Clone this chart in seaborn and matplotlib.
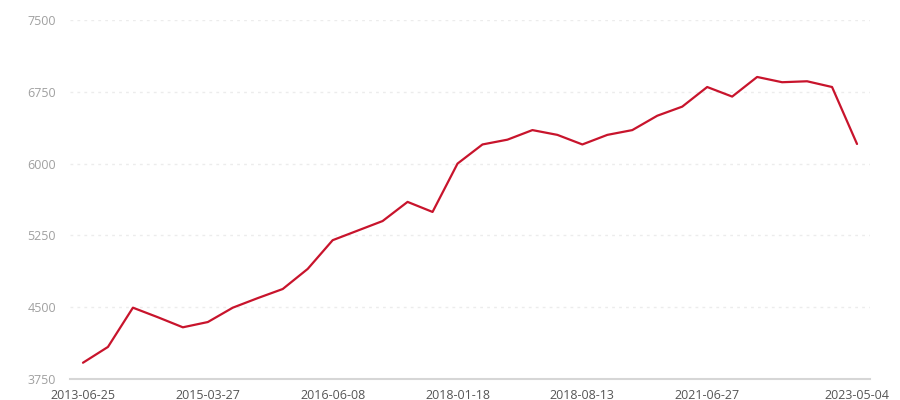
import pandas as pd
import matplotlib.pyplot as plt
import seaborn as sns

# dates shown on the x axis (every 5th point plus the last)
tick_dates = ['2013-06-25', '2015-03-27', '2016-06-08', '2018-01-18',
              '2018-08-13', '2021-06-27', '2023-05-04']
tick_index = [0, 5, 10, 15, 20, 25, 31]

values = [3920, 4085, 4495, 4395, 4290, 4345, 4495, 4595, 4690, 4900,
          5200, 5300, 5400, 5600, 5495, 6000, 6200, 6250, 6350, 6300,
          6200, 6300, 6350, 6500, 6595, 6800, 6700, 6905, 6850, 6860,
          6800, 6205]

df = pd.DataFrame({'idx': range(len(values)), 'value': values})

sns.set_style('white')
plt.rcParams['font.family'] = ['Open Sans', 'DejaVu Sans']

fig = plt.figure(figsize=(9, 4), dpi=100)
ax = fig.add_axes([70 / 900, 21 / 400, 800 / 900, 359 / 400])

sns.lineplot(data=df, x='idx', y='value', color='#c8142c', linewidth=1.6, ax=ax)

ax.set_xlim(-0.52, 31.52)
ax.set_ylim(3750, 7500)
ax.set_yticks([3750, 4500, 5250, 6000, 6750, 7500])
ax.set_xticks(tick_index)
ax.set_xticklabels(tick_dates)
ax.set_xlabel('')
ax.set_ylabel('')

ax.grid(axis='y', color='#ececec', linestyle=(0, (2, 3)), linewidth=1)
ax.set_axisbelow(True)
for s in ['top', 'right', 'left']:
    ax.spines[s].set_visible(False)
ax.spines['bottom'].set_color('#d6d6d6')
ax.spines['bottom'].set_linewidth(1.5)

ax.tick_params(axis='y', length=0, pad=10, labelsize=9, labelcolor='#a0a0a0')
ax.tick_params(axis='x', length=4, width=1, color='#d6d6d6', pad=3,
               labelsize=9, labelcolor='#555555')

fig.savefig('out.png', dpi=100)
